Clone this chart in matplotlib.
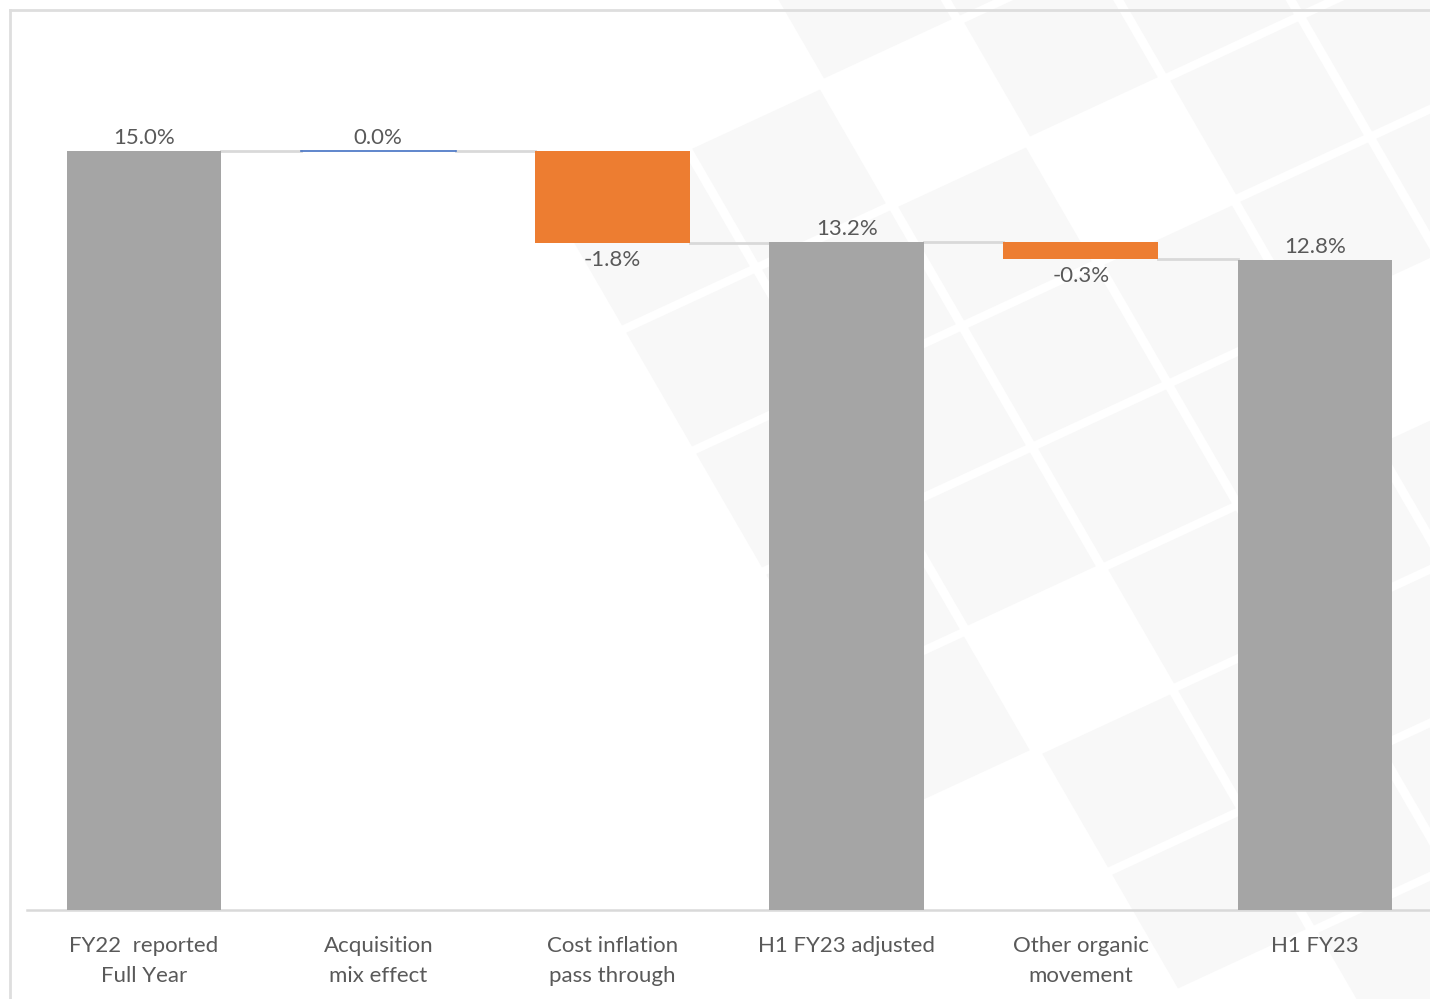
import numpy as np
import matplotlib
matplotlib.use("Agg")
import matplotlib.pyplot as plt
from matplotlib.patches import Polygon
from matplotlib.lines import Line2D

# ---- data ----
categories = ["FY22  reported\nFull Year", "Acquisition\nmix effect", "Cost inflation\npass through",
              "H1 FY23 adjusted", "Other organic\nmovement", "H1 FY23"]
values = [15.0, 0.0, -1.82, 13.2, -0.33, 12.84]
kinds = ["total", "delta", "delta", "total", "delta", "total"]

GRAY = "#a5a5a5"
ORANGE = "#ed7d31"
BLUE = "#4472c4"
LINE = "#d9d9d9"
TXT = "#595959"

plt.rcParams['font.family'] = ['Lato', 'DejaVu Sans']

W, H = 1430, 999
fig = plt.figure(figsize=(W / 100, H / 100), dpi=100)
fig.patch.set_facecolor("white")

# faint decorative watermark of tilted squares (pixel coordinates, image y down)
origin = np.array([1032.0, 447.0])
u = np.array([136.0, -63.0])
v = np.array([70.0, 121.0])
gap = 0.03
skip = {(0, -3), (1, -2), (-1, 1), (2, 0)}
A = np.array([560.0, 380.0])
d_up = np.array([200.0, -310.0])
for i in range(-6, 9):
    for j in range(-7, 7):
        if (i, j) in skip:
            continue
        c0 = origin + (i + gap) * u + (j + gap) * v
        c1 = origin + (i + 1 - gap) * u + (j + gap) * v
        c2 = origin + (i + 1 - gap) * u + (j + 1 - gap) * v
        c3 = origin + (i + gap) * u + (j + 1 - gap) * v
        pts = np.array([c0, c1, c2, c3])
        cen = pts.mean(axis=0)
        rel = cen - A
        if rel[0] * d_up[1] - rel[1] * d_up[0] > 0:
            continue
        if cen[1] - 360 > 1.06 * (cen[0] - 590):
            continue
        if pts[:, 0].max() < 560 or pts[:, 1].min() > 910 or pts[:, 1].max() < 0 \
                or pts[:, 0].min() > W:
            continue
        pts[:, 1] = H - pts[:, 1]
        fig.add_artist(Polygon(pts, closed=True, transform=None, facecolor="#f8f8f8",
                               edgecolor="none", zorder=0))

# figure border (top and left)
fig.add_artist(Line2D([10 / W, 1.0], [1 - 10 / H, 1 - 10 / H], transform=fig.transFigure,
                      color="#dedede", lw=2, zorder=1))
fig.add_artist(Line2D([10 / W, 10 / W], [0, 1 - 10 / H], transform=fig.transFigure,
                      color="#dedede", lw=2, zorder=1))

ylim_top = 17.5
ax_left = 27 / W
ax_bottom = (H - 910) / H
ax_height = 759 / 15.0 * ylim_top / H
ax = fig.add_axes([ax_left, ax_bottom, 1405 / W, ax_height])
ax.patch.set_alpha(0)
ax.set_xlim(-0.5, 5.5)
ax.set_ylim(0, ylim_top)

FS = 16
x = np.arange(len(categories))
width = 0.66
level = 0.0
tops = []
for xi, val, kind in zip(x, values, kinds):
    if kind == "total":
        ax.bar(xi, val, width=width, color=GRAY, zorder=3)
        level = val
        ax.annotate(f"{val:.1f}%", (xi, val), xytext=(0, 2.5), textcoords="offset points",
                    ha="center", va="bottom", fontsize=FS, color=TXT)
        tops.append((level, level))
    else:
        start = level
        end = level + val
        if abs(val) < 1e-9:
            ax.plot([xi - width / 2, xi + width / 2], [start, start], color=BLUE, lw=1.2, zorder=4)
            ax.annotate(f"{val:.1f}%", (xi, start), xytext=(0, 2.5), textcoords="offset points",
                        ha="center", va="bottom", fontsize=FS, color=TXT)
        else:
            ax.bar(xi, end - start, bottom=start, width=width, color=ORANGE, zorder=3)
            ax.annotate(f"{val:.1f}%", (xi, min(start, end)), xytext=(0, -5),
                        textcoords="offset points", ha="center", va="top",
                        fontsize=FS, color=TXT)
        level = end
        tops.append((start, end))

# connector lines
for k in range(len(values) - 1):
    lvl = tops[k][1]
    ax.plot([x[k] + width / 2, x[k + 1] - width / 2], [lvl, lvl], color=LINE, lw=2, zorder=2)

for s in ["top", "right", "left"]:
    ax.spines[s].set_visible(False)
ax.spines["bottom"].set_color(LINE)
ax.spines["bottom"].set_linewidth(1.8)
ax.set_yticks([])
ax.set_xticks(x)
ax.set_xticklabels(categories, fontsize=FS, color=TXT, linespacing=1.62, va="top")
ax.tick_params(axis="x", length=0, pad=19)

fig.savefig("out.png", dpi=100, facecolor="white")
